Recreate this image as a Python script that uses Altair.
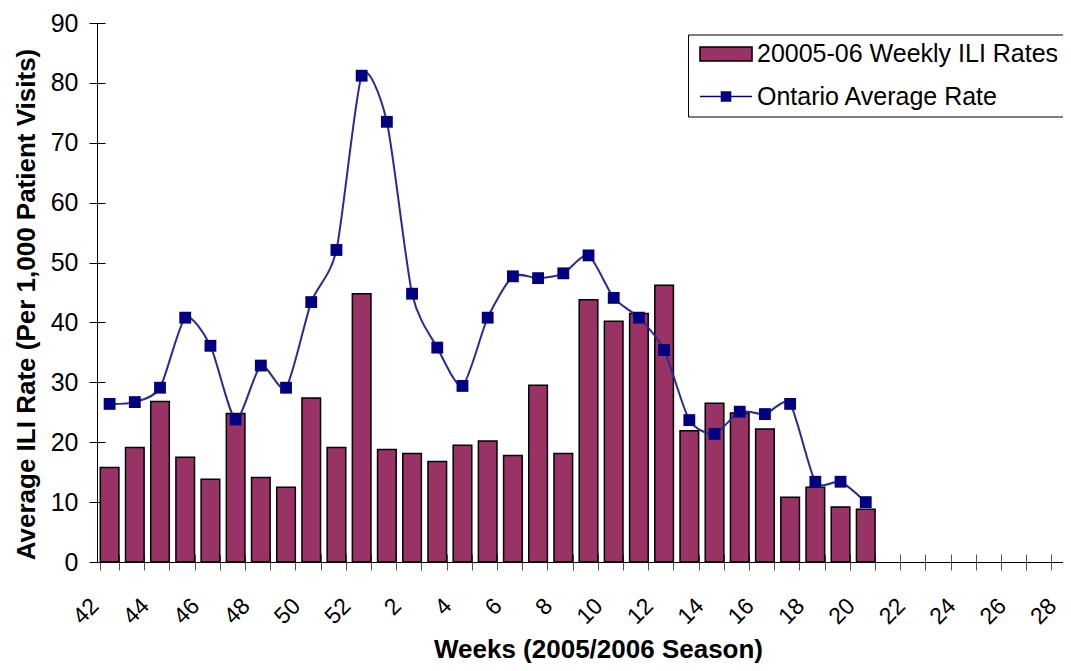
import altair as alt
import pandas as pd

# ---- data ----
weeks = [str(w) for w in range(42, 53)] + [str(w) for w in range(1, 29)]
bar_weeks = weeks[:31]
weekly_rates = [15.8, 19.1, 26.8, 17.5, 13.8, 24.8, 14.1, 12.5, 27.4, 19.1, 44.8,
                18.8, 18.1, 16.8, 19.5, 20.2, 17.8, 29.5, 18.1, 43.8, 40.2, 41.5,
                46.2, 21.9, 26.5, 24.9, 22.2, 10.8, 12.5, 9.2, 8.8]
ontario_avg = [26.4, 26.7, 29.1, 40.8, 36.1, 23.8, 32.8, 29.1, 43.4, 52.1, 81.2,
               73.5, 44.8, 35.8, 29.4, 40.8, 47.7, 47.4, 48.2, 51.2, 44.1, 40.8,
               35.4, 23.7, 21.4, 25.1, 24.7, 26.4, 13.4, 13.4, 10.0]
series_names = ["20005-06 Weekly ILI Rates", "Ontario Average Rate"]
y_ticks = list(range(0, 100, 10))

bars_df = pd.DataFrame({"week": bar_weeks, "rate": weekly_rates, "series": series_names[0]})
line_df = pd.DataFrame({"week": bar_weeks, "rate": ontario_avg, "series": series_names[1]})

FONT = "Liberation Sans"
BAR_COLOR = "#993366"
NAVY = "#000080"

x_scale = alt.Scale(domain=weeks, paddingInner=0.262, paddingOuter=0.131)
y_scale = alt.Scale(domain=[0, 90], nice=False)

even_labels = "toNumber(datum.value) % 2 == 0 ? datum.label : ''"

x_axis_main = alt.Axis(
    orient="bottom", title="Weeks (2005/2006 Season)", grid=False,
    tickBand="extent", tickSize=8, tickColor="#555555", tickWidth=1,
    domainColor="black", domainWidth=1,
    labelExpr=even_labels, labelAngle=-45, labelAlign="right", labelBaseline="middle",
    labelOffset=-15, labelPadding=32, labelFont=FONT, labelFontSize=23,
    labelColor="black", labelOverlap=False, labelFlush=False,
    titleFont=FONT, titleFontSize=26, titleFontWeight="bold", titleColor="black",
    titleX=501, titleY=95, titleAlign="center", titleBaseline="alphabetic",
)
x_axis_inner = alt.Axis(
    orient="bottom", offset=-8, grid=False, tickBand="extent", tickSize=8,
    tickColor="#555555", tickWidth=1, domain=False, labels=False, title=None,
)
y_axis_main = alt.Axis(
    orient="left", values=y_ticks, grid=False, tickSize=8, tickColor="black",
    domainColor="black", domainWidth=1,
    labelFont=FONT, labelFontSize=25, labelColor="black", labelPadding=11,
    title="Average ILI Rate (Per 1,000 Patient Visits)",
    titleFont=FONT, titleFontSize=26, titleFontWeight="bold", titleColor="black",
    titleAngle=270, titleX=-63, titleY=281, titleAlign="center", titleBaseline="alphabetic",
)
y_axis_inner = alt.Axis(
    orient="left", offset=-8, values=y_ticks, grid=False, tickSize=8,
    tickColor="black", domain=False, labels=False, title=None,
)

line_path = "M-2.17,0H2.17M-0.38,-0.38H0.38V0.38H-0.38Z"
bar_path = "M-2.17,-0.58H2.17V0.58H-2.17Z"

legend = alt.Legend(
    orient="none", legendX=591, legendY=11.5, title=None,
    labelFont=FONT, labelFontSize=25, labelColor="black", labelLimit=600,
    symbolSize=576, symbolStrokeWidth=1.5,
    symbolType={"expr": f"datum.value == '{series_names[1]}' ? '{line_path}' : '{bar_path}'"},
    symbolStrokeColor={"expr": f"datum.value == '{series_names[1]}' ? '{NAVY}' : 'black'"},
    symbolOffset=18.5, labelOffset=18, padding=6.5, rowPadding=16.5,
    strokeColor="black", fillColor="white",
)

bars = alt.Chart(bars_df).mark_bar(stroke="black", strokeWidth=1.5).encode(
    x=alt.X("week:N", sort=weeks, scale=x_scale, axis=x_axis_main),
    y=alt.Y("rate:Q", scale=y_scale, axis=y_axis_main),
    color=alt.Color("series:N", scale=alt.Scale(domain=series_names, range=[BAR_COLOR, NAVY]),
                    legend=legend),
)

line = alt.Chart(line_df).mark_line(
    interpolate="cardinal", tension=0.3, color="#2a2a96", strokeWidth=2
).encode(
    x=alt.X("week:N", sort=weeks, scale=x_scale, axis=x_axis_inner),
    y=alt.Y("rate:Q", scale=y_scale, axis=y_axis_inner),
)

points = alt.Chart(line_df).mark_square(size=140, color=NAVY, opacity=1).encode(
    x=alt.X("week:N", sort=weeks, scale=x_scale, axis=None),
    y=alt.Y("rate:Q", scale=y_scale, axis=None),
)

# The category axis runs on past the right edge, as in the original; the
# negative right padding keeps the page itself inside the window.
chart = alt.layer(bars, line, points).resolve_axis(
    x="independent", y="independent"
).properties(
    width=983, height=539,
    autosize=alt.AutoSizeParams(type="none"),
    padding={"left": 89, "top": 15, "right": -17, "bottom": 101},
    background="white",
).configure_view(strokeWidth=0)

chart.save("out.html", embed_options={"renderer": "svg", "actions": False})
